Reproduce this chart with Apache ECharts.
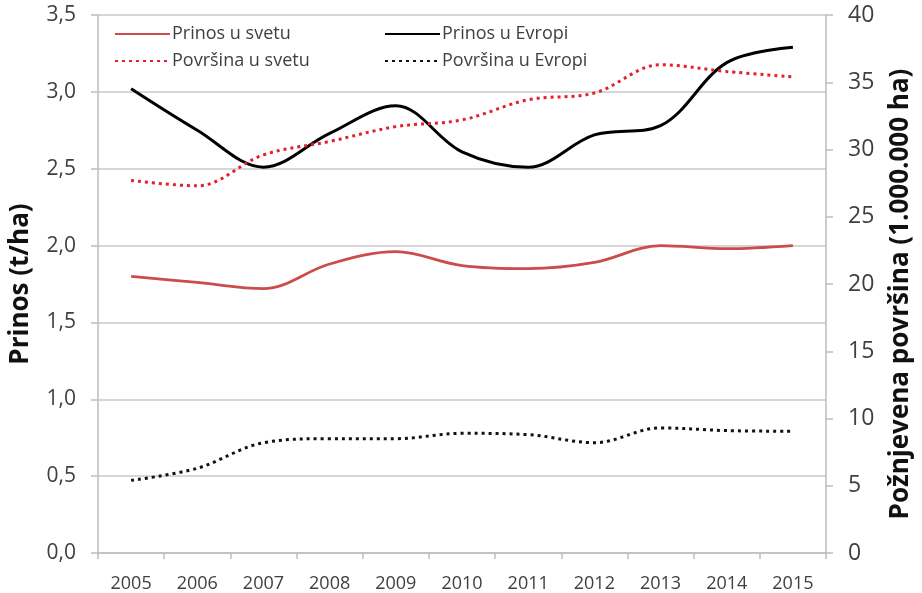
<!DOCTYPE html>
<html>
<head>
<meta charset="utf-8">
<script src="https://cdn.jsdelivr.net/npm/echarts@6/dist/echarts.min.js"></script>
<style>html,body{margin:0;padding:0;background:#fff;}#c{width:922px;height:593px;}</style>
</head>
<body>
<div id="c"></div>
<script>
var years = ['2005','2006','2007','2008','2009','2010','2011','2012','2013','2014','2015'];
var prinosSvet = [1.80, 1.76, 1.72, 1.88, 1.96, 1.87, 1.85, 1.89, 2.00, 1.98, 2.00];
var prinosEvropa = [3.02, 2.75, 2.51, 2.73, 2.91, 2.61, 2.51, 2.72, 2.78, 3.19, 3.29];
var povrsinaSvet = [27.7, 27.3, 29.6, 30.6, 31.7, 32.2, 33.7, 34.2, 36.3, 35.8, 35.4];
var povrsinaEvropa = [5.4, 6.3, 8.2, 8.5, 8.5, 8.9, 8.8, 8.2, 9.3, 9.1, 9.05];
var leftTicks = {min: 0, max: 3.5, interval: 0.5};
var rightTicks = {min: 0, max: 40, interval: 5};

var FONT = 'Open Sans';
var TXT = '#404040';
var chart = echarts.init(document.getElementById('c'), null, {renderer: 'canvas'});
function legendAt(name, left, top) {
  return {
    data: [name], left: left, top: top, orient: 'horizontal',
    itemWidth: 55, itemHeight: 12, itemGap: 4,
    itemStyle: {color: 'transparent', borderColor: 'transparent', borderWidth: 0},
    textStyle: {fontFamily: FONT, fontSize: 18, color: TXT, padding: [0, 0, 0, -3]},
    selectedMode: false
  };
}
chart.setOption({
  animation: false,
  backgroundColor: '#fff',
  grid: {left: 97, right: 92, top: 15, bottom: 40, containLabel: false},
  legend: [
    legendAt('Prinos u svetu', 109, 20),
    legendAt('Površina u svetu', 109, 47),
    legendAt('Prinos u Evropi', 379, 20),
    legendAt('Površina u Evropi', 379, 47)
  ],
  xAxis: {
    type: 'category', data: years, boundaryGap: true,
    axisLine: {lineStyle: {color: '#bdbdbd', width: 1.5}},
    axisTick: {show: true, interval: 0, length: 6, lineStyle: {color: '#bdbdbd', width: 1.5}},
    axisLabel: {fontFamily: FONT, fontSize: 18, color: TXT, margin: 22, interval: 0}
  },
  yAxis: [
    {
      type: 'value', min: leftTicks.min, max: leftTicks.max, interval: leftTicks.interval,
      name: 'Prinos (t/ha)', nameLocation: 'middle', nameGap: 64,
      nameTextStyle: {fontFamily: FONT, fontSize: 26, fontWeight: 'bold', color: '#111'},
      axisLine: {show: true, lineStyle: {color: '#bdbdbd', width: 1.5}},
      axisTick: {show: true, length: 7, lineStyle: {color: '#bdbdbd', width: 1.5}},
      axisLabel: {fontFamily: FONT, fontSize: 21, color: TXT, margin: 22,
        formatter: function (v) { return v.toFixed(1).replace('.', ','); }},
      splitLine: {show: true, lineStyle: {color: '#c8c8c8', width: 1.5}}
    },
    {
      type: 'value', min: rightTicks.min, max: rightTicks.max, interval: rightTicks.interval,
      name: 'Požnjevena površina (1.000.000 ha)', nameLocation: 'middle', nameGap: 62,
      nameRotate: 90,
      nameTextStyle: {fontFamily: FONT, fontSize: 26, fontWeight: 'bold', color: '#111', padding: [0, 20, 0, 0]},
      axisLine: {show: true, lineStyle: {color: '#bdbdbd', width: 1.5}},
      axisTick: {show: true, length: 7, lineStyle: {color: '#bdbdbd', width: 1.5}},
      axisLabel: {fontFamily: FONT, fontSize: 23, color: TXT, margin: 22},
      splitLine: {show: false}
    }
  ],
  series: [
    {name: 'Prinos u svetu', type: 'line', yAxisIndex: 0, data: prinosSvet, smooth: 0.35,
      symbol: 'none', lineStyle: {color: '#cc4b4b', width: 2.8}, itemStyle: {color: '#cc4b4b'}},
    {name: 'Prinos u Evropi', type: 'line', yAxisIndex: 0, data: prinosEvropa, smooth: 0.35,
      symbol: 'none', lineStyle: {color: '#000', width: 3}, itemStyle: {color: '#000'}},
    {name: 'Površina u svetu', type: 'line', yAxisIndex: 1, data: povrsinaSvet, smooth: 0.35,
      symbol: 'none', lineStyle: {color: '#e3202c', width: 3, type: [3, 4]}, itemStyle: {color: '#e3202c'}},
    {name: 'Površina u Evropi', type: 'line', yAxisIndex: 1, data: povrsinaEvropa, smooth: 0.35,
      symbol: 'none', lineStyle: {color: '#111', width: 3, type: [3, 4]}, itemStyle: {color: '#111'}}
  ]
});
</script>
</body>
</html>
